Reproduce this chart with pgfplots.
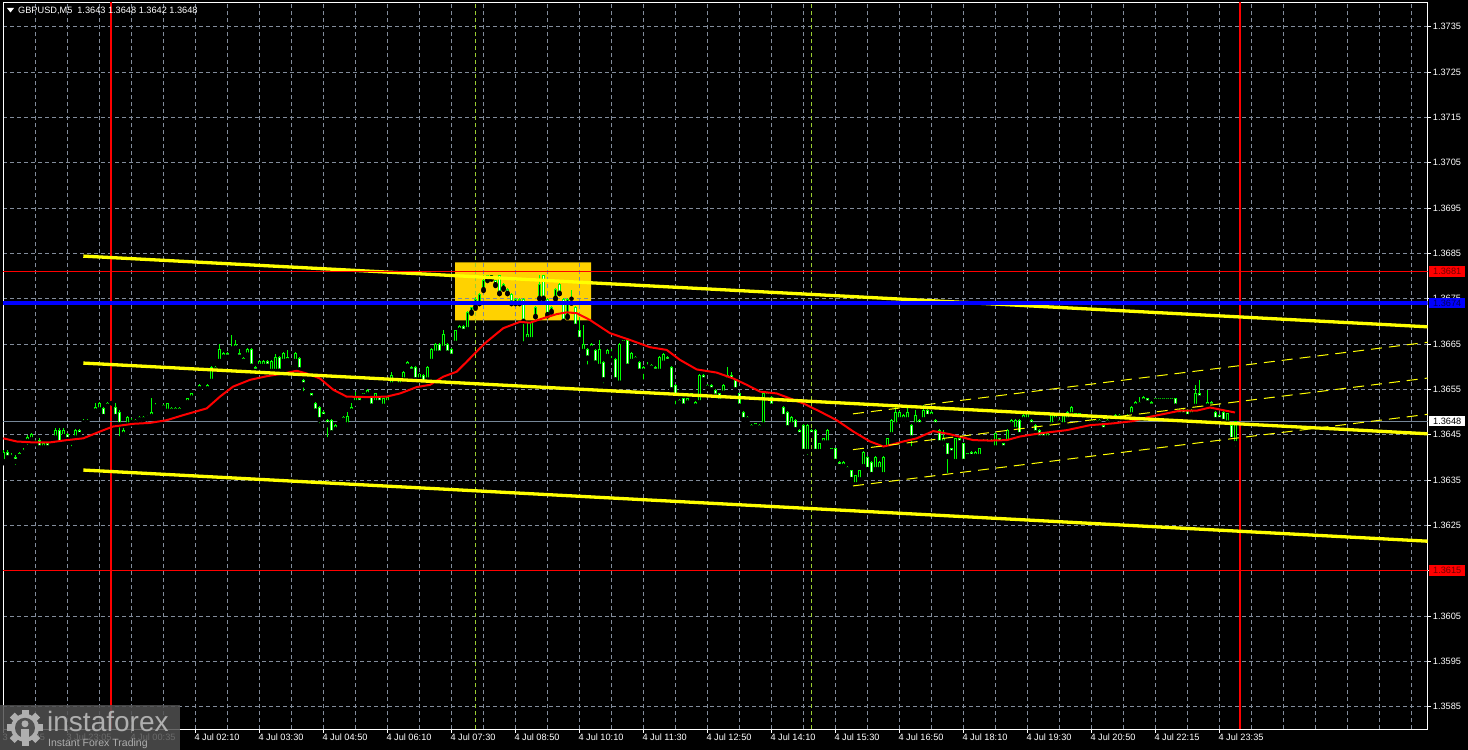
\documentclass[border=0pt]{standalone}
\usepackage{xcolor}
\usepackage{pgfplots}
\pgfplotsset{compat=1.18}
\usepackage{pgfplotstable}
\usepackage{fontspec}
\setmainfont{Liberation Sans}

\definecolor{candle}{RGB}{0,255,0}
\definecolor{gridgray}{RGB}{130,140,155}
\definecolor{chanyellow}{RGB}{255,255,0}
\definecolor{boxgold}{RGB}{255,210,0}
\definecolor{levelblue}{RGB}{0,0,255}
\definecolor{levelred}{RGB}{255,0,0}
\definecolor{redtext}{RGB}{110,0,0}
\definecolor{bluetext}{RGB}{0,0,90}
\definecolor{bidgray}{RGB}{119,136,153}
\definecolor{sepgreen}{RGB}{154,205,50}
\definecolor{wmbox}{RGB}{80,80,80}
\definecolor{wmtext}{RGB}{175,175,175}

% GBPUSD M5 candles: bar index, open, high, low, close
\pgfplotstableread{
i o h l c
0 1.36390 1.36416 1.36387 1.36412
1 1.36412 1.36416 1.36390 1.36398
2 1.36405 1.36409 1.36398 1.36401
3 1.36401 1.36405 1.36379 1.36390
4 1.36401 1.36412 1.36398 1.36409
5 1.36412 1.36420 1.36409 1.36416
6 1.36434 1.36449 1.36423 1.36445
7 1.36438 1.36453 1.36434 1.36451
8 1.36434 1.36438 1.36429 1.36432
9 1.36438 1.36442 1.36416 1.36420
10 1.36420 1.36434 1.36417 1.36432
11 1.36431 1.36434 1.36417 1.36420
12 1.36437 1.36440 1.36434 1.36438
13 1.36442 1.36464 1.36438 1.36460
14 1.36460 1.36464 1.36429 1.36431
15 1.36445 1.36464 1.36442 1.36460
16 1.36451 1.36453 1.36434 1.36438
17 1.36432 1.36434 1.36420 1.36432
18 1.36442 1.36462 1.36440 1.36460
19 1.36460 1.36462 1.36447 1.36449
20 1.36475 1.36484 1.36471 1.36481
21 1.36478 1.36484 1.36471 1.36481
22 1.36492 1.36495 1.36489 1.36493
23 1.36501 1.36520 1.36498 1.36512
24 1.36504 1.36523 1.36502 1.36520
25 1.36508 1.36512 1.36488 1.36489
26 1.36512 1.36523 1.36509 1.36520
27 1.36520 1.36523 1.36519 1.36520
28 1.36512 1.36520 1.36486 1.36489
29 1.36501 1.36504 1.36442 1.36471
30 1.36449 1.36464 1.36447 1.36460
31 1.36471 1.36491 1.36469 1.36489
32 1.36482 1.36486 1.36473 1.36476
33 1.36478 1.36484 1.36475 1.36482
34 1.36482 1.36491 1.36481 1.36489
35 1.36489 1.36491 1.36481 1.36482
36 1.36486 1.36493 1.36484 1.36492
37 1.36489 1.36530 1.36488 1.36501
38 1.36512 1.36519 1.36506 1.36512
39 1.36508 1.36512 1.36501 1.36508
40 1.36508 1.36517 1.36506 1.36515
41 1.36501 1.36520 1.36498 1.36519
42 1.36508 1.36510 1.36498 1.36501
43 1.36501 1.36510 1.36498 1.36508
44 1.36508 1.36510 1.36498 1.36501
45 1.36522 1.36524 1.36520 1.36523
46 1.36520 1.36531 1.36519 1.36530
47 1.36530 1.36542 1.36528 1.36541
48 1.36542 1.36546 1.36541 1.36545
49 1.36550 1.36561 1.36548 1.36559
50 1.36541 1.36542 1.36539 1.36541
51 1.36550 1.36561 1.36548 1.36559
52 1.36567 1.36601 1.36564 1.36600
53 1.36592 1.36601 1.36591 1.36600
54 1.36611 1.36651 1.36609 1.36640
55 1.36620 1.36633 1.36618 1.36631
56 1.36631 1.36633 1.36618 1.36620
57 1.36640 1.36670 1.36636 1.36640
58 1.36640 1.36660 1.36638 1.36651
59 1.36631 1.36640 1.36611 1.36620
60 1.36620 1.36622 1.36609 1.36611
61 1.36625 1.36642 1.36623 1.36640
62 1.36640 1.36642 1.36598 1.36600
63 1.36600 1.36601 1.36587 1.36589
64 1.36600 1.36614 1.36598 1.36612
65 1.36600 1.36614 1.36598 1.36612
66 1.36612 1.36614 1.36598 1.36600
67 1.36589 1.36614 1.36587 1.36612
68 1.36589 1.36629 1.36587 1.36622
69 1.36622 1.36623 1.36578 1.36589
70 1.36611 1.36633 1.36609 1.36631
71 1.36612 1.36636 1.36611 1.36622
72 1.36596 1.36601 1.36592 1.36596
73 1.36611 1.36633 1.36609 1.36631
74 1.36620 1.36622 1.36591 1.36592
75 1.36570 1.36572 1.36541 1.36559
76 1.36550 1.36552 1.36548 1.36550
77 1.36541 1.36542 1.36528 1.36530
78 1.36520 1.36523 1.36498 1.36501
79 1.36512 1.36513 1.36471 1.36482
80 1.36501 1.36502 1.36488 1.36489
81 1.36482 1.36484 1.36440 1.36471
82 1.36482 1.36484 1.36451 1.36453
83 1.36460 1.36473 1.36459 1.36471
84 1.36478 1.36481 1.36476 1.36478
85 1.36481 1.36491 1.36478 1.36489
86 1.36471 1.36501 1.36469 1.36491
87 1.36501 1.36520 1.36498 1.36512
88 1.36520 1.36545 1.36519 1.36534
89 1.36530 1.36531 1.36519 1.36520
90 1.36534 1.36542 1.36532 1.36541
91 1.36537 1.36550 1.36535 1.36548
92 1.36534 1.36535 1.36510 1.36512
93 1.36520 1.36542 1.36519 1.36541
94 1.36534 1.36535 1.36519 1.36520
95 1.36512 1.36531 1.36510 1.36530
96 1.36520 1.36535 1.36519 1.36534
97 1.36559 1.36589 1.36557 1.36581
98 1.36574 1.36575 1.36562 1.36563
99 1.36559 1.36572 1.36557 1.36570
100 1.36570 1.36590 1.36569 1.36589
101 1.36600 1.36612 1.36598 1.36611
102 1.36600 1.36601 1.36587 1.36589
103 1.36600 1.36601 1.36569 1.36570
104 1.36570 1.36587 1.36569 1.36585
105 1.36581 1.36583 1.36562 1.36563
106 1.36570 1.36601 1.36569 1.36600
107 1.36611 1.36642 1.36609 1.36640
108 1.36629 1.36653 1.36628 1.36651
109 1.36651 1.36653 1.36628 1.36629
110 1.36640 1.36681 1.36638 1.36673
111 1.36651 1.36653 1.36628 1.36629
112 1.36640 1.36642 1.36620 1.36622
113 1.36651 1.36682 1.36650 1.36681
114 1.36679 1.36691 1.36677 1.36689
115 1.36689 1.36691 1.36675 1.36677
116 1.36681 1.36722 1.36679 1.36721
117 1.36719 1.36732 1.36717 1.36731
118 1.36731 1.36754 1.36728 1.36750
119 1.36739 1.36763 1.36738 1.36761
120 1.36769 1.36802 1.36767 1.36791
121 1.36791 1.36803 1.36789 1.36802
122 1.36802 1.36803 1.36792 1.36795
123 1.36791 1.36792 1.36778 1.36780
124 1.36802 1.36803 1.36760 1.36761
125 1.36772 1.36785 1.36770 1.36783
126 1.36772 1.36774 1.36760 1.36761
127 1.36761 1.36763 1.36738 1.36739
128 1.36739 1.36752 1.36738 1.36750
129 1.36750 1.36752 1.36738 1.36739
130 1.36750 1.36752 1.36651 1.36699
131 1.36659 1.36699 1.36657 1.36673
132 1.36659 1.36700 1.36657 1.36699
133 1.36710 1.36734 1.36709 1.36732
134 1.36750 1.36802 1.36749 1.36783
135 1.36802 1.36803 1.36748 1.36750
136 1.36750 1.36752 1.36711 1.36714
137 1.36721 1.36734 1.36719 1.36732
138 1.36750 1.36774 1.36748 1.36772
139 1.36783 1.36785 1.36760 1.36761
140 1.36750 1.36752 1.36697 1.36699
141 1.36710 1.36752 1.36708 1.36750
142 1.36750 1.36769 1.36739 1.36750
143 1.36732 1.36734 1.36686 1.36688
144 1.36681 1.36710 1.36651 1.36659
145 1.36633 1.36692 1.36631 1.36651
146 1.36640 1.36642 1.36600 1.36618
147 1.36640 1.36653 1.36638 1.36651
148 1.36636 1.36638 1.36606 1.36607
149 1.36600 1.36659 1.36598 1.36640
150 1.36611 1.36612 1.36559 1.36570
151 1.36622 1.36638 1.36620 1.36636
152 1.36629 1.36640 1.36614 1.36629
153 1.36618 1.36620 1.36569 1.36570
154 1.36563 1.36653 1.36562 1.36651
155 1.36651 1.36660 1.36650 1.36659
156 1.36659 1.36660 1.36598 1.36600
157 1.36611 1.36632 1.36609 1.36631
158 1.36622 1.36623 1.36613 1.36614
159 1.36611 1.36612 1.36587 1.36589
160 1.36589 1.36601 1.36567 1.36600
161 1.36600 1.36611 1.36598 1.36600
162 1.36596 1.36605 1.36595 1.36603
163 1.36600 1.36601 1.36587 1.36589
164 1.36589 1.36623 1.36587 1.36622
165 1.36607 1.36631 1.36606 1.36629
166 1.36622 1.36623 1.36609 1.36611
167 1.36600 1.36601 1.36547 1.36548
168 1.36559 1.36561 1.36512 1.36530
169 1.36526 1.36528 1.36517 1.36519
170 1.36530 1.36531 1.36510 1.36512
171 1.36519 1.36531 1.36517 1.36530
172 1.36530 1.36542 1.36528 1.36541
173 1.36512 1.36524 1.36510 1.36523
174 1.36520 1.36583 1.36519 1.36581
175 1.36581 1.36583 1.36569 1.36570
176 1.36559 1.36561 1.36551 1.36552
177 1.36559 1.36561 1.36547 1.36548
178 1.36548 1.36550 1.36532 1.36534
179 1.36541 1.36542 1.36521 1.36523
180 1.36541 1.36561 1.36539 1.36559
181 1.36570 1.36600 1.36569 1.36581
182 1.36581 1.36589 1.36569 1.36570
183 1.36570 1.36572 1.36547 1.36548
184 1.36541 1.36542 1.36510 1.36512
185 1.36501 1.36502 1.36481 1.36482
186 1.36489 1.36491 1.36481 1.36482
187 1.36471 1.36473 1.36462 1.36464
188 1.36467 1.36476 1.36466 1.36475
189 1.36471 1.36473 1.36462 1.36464
190 1.36471 1.36542 1.36470 1.36541
191 1.36534 1.36542 1.36532 1.36541
192 1.36534 1.36535 1.36510 1.36512
193 1.36519 1.36531 1.36517 1.36530
194 1.36530 1.36534 1.36526 1.36530
195 1.36512 1.36513 1.36488 1.36489
196 1.36501 1.36502 1.36462 1.36464
197 1.36471 1.36491 1.36470 1.36489
198 1.36482 1.36484 1.36459 1.36460
199 1.36460 1.36462 1.36448 1.36449
200 1.36471 1.36473 1.36411 1.36412
201 1.36412 1.36473 1.36401 1.36471
202 1.36460 1.36462 1.36448 1.36449
203 1.36460 1.36462 1.36411 1.36412
204 1.36412 1.36432 1.36411 1.36431
205 1.36431 1.36443 1.36429 1.36442
206 1.36431 1.36462 1.36429 1.36460
207 1.36420 1.36421 1.36411 1.36412
208 1.36420 1.36421 1.36389 1.36390
209 1.36390 1.36392 1.36378 1.36379
210 1.36379 1.36392 1.36378 1.36390
211 1.36379 1.36381 1.36370 1.36372
212 1.36372 1.36373 1.36348 1.36350
213 1.36339 1.36362 1.36337 1.36361
214 1.36350 1.36373 1.36348 1.36372
215 1.36379 1.36414 1.36378 1.36412
216 1.36401 1.36403 1.36370 1.36372
217 1.36390 1.36392 1.36359 1.36361
218 1.36372 1.36403 1.36370 1.36401
219 1.36372 1.36392 1.36370 1.36390
220 1.36361 1.36403 1.36359 1.36401
221 1.36420 1.36443 1.36418 1.36442
222 1.36449 1.36484 1.36448 1.36482
223 1.36471 1.36512 1.36470 1.36501
224 1.36482 1.36502 1.36481 1.36501
225 1.36482 1.36495 1.36481 1.36493
226 1.36482 1.36512 1.36481 1.36501
227 1.36471 1.36473 1.36420 1.36442
228 1.36471 1.36504 1.36470 1.36493
229 1.36482 1.36484 1.36470 1.36471
230 1.36482 1.36515 1.36481 1.36504
231 1.36504 1.36506 1.36488 1.36489
232 1.36489 1.36502 1.36488 1.36501
233 1.36482 1.36484 1.36470 1.36471
234 1.36460 1.36462 1.36429 1.36431
235 1.36431 1.36460 1.36420 1.36442
236 1.36431 1.36432 1.36361 1.36401
237 1.36420 1.36421 1.36407 1.36409
238 1.36390 1.36443 1.36389 1.36442
239 1.36442 1.36443 1.36429 1.36431
240 1.36431 1.36432 1.36389 1.36390
241 1.36401 1.36410 1.36400 1.36409
242 1.36412 1.36414 1.36400 1.36401
243 1.36401 1.36414 1.36400 1.36412
244 1.36401 1.36421 1.36400 1.36420
245 1.36431 1.36440 1.36429 1.36438
246 1.36438 1.36440 1.36429 1.36431
247 1.36431 1.36440 1.36429 1.36438
248 1.36420 1.36454 1.36418 1.36453
249 1.36442 1.36443 1.36429 1.36431
250 1.36431 1.36432 1.36418 1.36420
251 1.36431 1.36462 1.36429 1.36460
252 1.36471 1.36484 1.36470 1.36482
253 1.36460 1.36484 1.36459 1.36482
254 1.36482 1.36484 1.36448 1.36449
255 1.36482 1.36495 1.36481 1.36493
256 1.36482 1.36503 1.36481 1.36502
257 1.36482 1.36484 1.36470 1.36471
258 1.36471 1.36473 1.36451 1.36453
259 1.36460 1.36462 1.36440 1.36442
260 1.36453 1.36454 1.36440 1.36442
261 1.36442 1.36454 1.36440 1.36453
262 1.36471 1.36495 1.36470 1.36493
263 1.36482 1.36495 1.36481 1.36493
264 1.36482 1.36484 1.36473 1.36475
265 1.36471 1.36495 1.36470 1.36493
266 1.36482 1.36502 1.36481 1.36501
267 1.36493 1.36513 1.36492 1.36512
268 1.36497 1.36498 1.36488 1.36489
269 1.36497 1.36498 1.36488 1.36489
270 1.36489 1.36491 1.36481 1.36482
271 1.36486 1.36487 1.36481 1.36482
272 1.36482 1.36484 1.36473 1.36475
273 1.36475 1.36484 1.36473 1.36482
274 1.36482 1.36484 1.36473 1.36475
275 1.36471 1.36473 1.36459 1.36460
276 1.36475 1.36484 1.36473 1.36482
277 1.36482 1.36491 1.36481 1.36489
278 1.36482 1.36495 1.36481 1.36493
279 1.36486 1.36495 1.36484 1.36493
280 1.36489 1.36491 1.36481 1.36482
281 1.36489 1.36495 1.36488 1.36493
282 1.36493 1.36513 1.36492 1.36512
283 1.36512 1.36524 1.36510 1.36523
284 1.36515 1.36534 1.36514 1.36523
285 1.36523 1.36535 1.36521 1.36534
286 1.36530 1.36531 1.36517 1.36519
287 1.36523 1.36524 1.36510 1.36512
288 1.36523 1.36531 1.36521 1.36530
289 1.36530 1.36531 1.36521 1.36523
290 1.36523 1.36531 1.36521 1.36530
291 1.36530 1.36531 1.36521 1.36523
292 1.36523 1.36531 1.36521 1.36530
293 1.36530 1.36531 1.36510 1.36512
294 1.36504 1.36506 1.36492 1.36493
295 1.36504 1.36506 1.36492 1.36493
296 1.36504 1.36506 1.36488 1.36489
297 1.36493 1.36506 1.36492 1.36504
298 1.36512 1.36559 1.36510 1.36541
299 1.36541 1.36570 1.36528 1.36530
300 1.36534 1.36535 1.36528 1.36530
301 1.36512 1.36548 1.36510 1.36523
302 1.36523 1.36524 1.36510 1.36512
303 1.36501 1.36502 1.36481 1.36482
304 1.36493 1.36495 1.36481 1.36482
305 1.36501 1.36502 1.36477 1.36478
306 1.36475 1.36498 1.36473 1.36497
307 1.36471 1.36473 1.36437 1.36438
308 1.36430 1.36480 1.36420 1.36480
}\candles

% moving average (red)
\pgfplotstableread{
x y
3.3 1.36442
16.7 1.36435
33 1.36433
50 1.36433
66.7 1.36438
83.3 1.36442
100 1.36457
113 1.36468
133.3 1.36474
150 1.36476
166.7 1.36482
183 1.36493
206.7 1.36508
220 1.36534
233 1.36556
250 1.36571
266.7 1.36579
283.3 1.36585
296.7 1.36591
306.7 1.36585
320 1.36574
333.3 1.36549
346.7 1.36534
366.7 1.36533
386.7 1.36534
400 1.36541
416.7 1.36555
430 1.36560
443.3 1.36578
456.7 1.36589
466.7 1.36611
480 1.36641
486.7 1.36655
503.3 1.36685
520 1.36699
530 1.36697
543.3 1.36707
556.7 1.36716
566.7 1.36720
576.7 1.36718
590 1.36703
610 1.36674
630 1.36659
650 1.36643
666.7 1.36637
680 1.36615
696.7 1.36594
716.7 1.36587
733.3 1.36574
746.7 1.36560
760 1.36545
776.7 1.36541
790 1.36530
803.3 1.36519
820 1.36501
836.7 1.36482
853.3 1.36457
870 1.36435
883.3 1.36424
890 1.36427
903.3 1.36435
916.7 1.36442
933.3 1.36458
950 1.36451
973.3 1.36438
990 1.36437
1006.7 1.36438
1020 1.36446
1040 1.36453
1066.7 1.36460
1090 1.36471
1113.3 1.36475
1133.3 1.36480
1146.7 1.36488
1166.7 1.36497
1180 1.36503
1196.7 1.36503
1210 1.36510
1223.3 1.36504
1235 1.36499
}\ma

\pgfplotsset{
  candlebar/.style={only marks, mark=none, forget plot,
    error bars/y dir=plus, error bars/y explicit,
    error bars/error mark=none,
    error bars/error bar style={#1}},
}

\pagecolor{black}

\begin{document}
\begin{tikzpicture}[x=1pt,y=1pt]
\begin{axis}[
  at={(0pt,0pt)}, anchor=south west,
  scale only axis, width=1424.7pt, height=727pt,
  xmin=3, xmax=1427.7, ymin=1.3580, ymax=1.37404,
  set layers=standard,
  clip mode=individual,
  axis line style={white, line width=0.9pt},
  tick style={white, line width=0.8pt},
  tick align=outside,
  major tick length=3.5pt,
  minor tick length=0pt,
  xtick pos=bottom, ytick pos=right,
  yticklabel pos=right,
  xtick={3.5,67.5,131.5,195.5,259.5,323.5,387.5,451.5,515.5,579.5,643.5,707.5,771.5,835.5,899.5,963.5,1027.5,1091.5,1155.5,1219.5},
  xticklabels={3 Jul 2025,3 Jul 23:05,4 Jul 00:35,4 Jul 02:10,4 Jul 03:30,4 Jul 04:50,4 Jul 06:10,4 Jul 07:30,4 Jul 08:50,4 Jul 10:10,4 Jul 11:30,4 Jul 12:50,4 Jul 14:10,4 Jul 15:30,4 Jul 16:50,4 Jul 18:10,4 Jul 19:30,4 Jul 20:50,4 Jul 22:15,4 Jul 23:35},
  minor xtick={35.5,99.5,163.5,227.5,291.5,355.5,419.5,483.5,547.5,611.5,675.5,739.5,803.5,867.5,931.5,995.5,1059.5,1123.5,1187.5,1251.5,1283.5,1315.5,1347.5,1379.5,1411.5},
  ytick={1.3585,1.3595,1.3605,1.3615,1.3625,1.3635,1.3645,1.3655,1.3665,1.3675,1.3685,1.3695,1.3705,1.3715,1.3725,1.3735},
  yticklabels={1.3585,1.3595,1.3605,1.3615,1.3625,1.3635,1.3645,1.3655,1.3665,1.3675,1.3685,1.3695,1.3705,1.3715,1.3725,1.3735},
  xmajorgrids, xminorgrids, ymajorgrids,
  grid style={gridgray, line width=0.8pt, dash pattern=on 4pt off 3pt},
  ticklabel style={font=\fontsize{9.2}{10}\selectfont, text=white, inner sep=0pt},
  xticklabel style={anchor=base west, xshift=-1.2pt, yshift=-8pt},
  yticklabel style={anchor=west, xshift=1.5pt},
]

% highlighted zone
\addplot[fill=boxgold, draw=none, on layer=axis background] coordinates {(455,1.36702) (591,1.36702) (591,1.36830) (455,1.36830) (455,1.36702)};

% session separators
\addplot[levelred, line width=2pt] coordinates {(111,1.3580) (111,1.37404)};
\addplot[levelred, line width=2pt] coordinates {(1239.5,1.3580) (1239.5,1.37404)};
\addplot[sepgreen, line width=1pt, dash pattern=on 4pt off 3pt] coordinates {(475.5,1.3580) (475.5,1.37404)};
\addplot[sepgreen, line width=1pt, dash pattern=on 4pt off 3pt] coordinates {(811.5,1.3580) (811.5,1.37404)};

% bid line
\addplot[bidgray, line width=1pt] coordinates {(3,1.3648) (1427.7,1.3648)};

% candles: wicks, then bodies
\addplot[candlebar={candle, line width=1pt}] table[x expr=3.5+4*\thisrow{i}, y=l, y error plus expr=\thisrow{h}-\thisrow{l}] {\candles};
\addplot[restrict expr to domain={\thisrow{c}-\thisrow{o}}{0:1}, candlebar={candle, line width=3pt}] table[x expr=3.5+4*\thisrow{i}, y=o, y error plus expr={max(\thisrow{c}-\thisrow{o},0.000022)}] {\candles};
\addplot[restrict expr to domain={\thisrow{c}-\thisrow{o}}{0.00005:1}, candlebar={black, line width=1pt}] table[x expr=3.5+4*\thisrow{i}, y expr=\thisrow{o}+0.000022, y error plus expr=\thisrow{c}-\thisrow{o}-0.000044] {\candles};
\addplot[restrict expr to domain={\thisrow{c}-\thisrow{o}}{-1:-0.000005}, candlebar={candle, line width=3pt}] table[x expr=3.5+4*\thisrow{i}, y=c, y error plus expr=\thisrow{o}-\thisrow{c}] {\candles};
\addplot[restrict expr to domain={\thisrow{c}-\thisrow{o}}{-1:-0.00005}, candlebar={white, line width=1pt}] table[x expr=3.5+4*\thisrow{i}, y expr=\thisrow{c}+0.000022, y error plus expr=\thisrow{o}-\thisrow{c}-0.000044] {\candles};

% moving average
\addplot[levelred, line width=2pt] table[x=x, y=y] {\ma};

% descending channel
\addplot[chanyellow, line width=3.3pt] coordinates {(83.3,1.36844) (1427.7,1.36688)};
\addplot[chanyellow, line width=3.3pt] coordinates {(83.3,1.36608) (1427.7,1.36452)};
\addplot[chanyellow, line width=3.3pt] coordinates {(83.3,1.36372) (1427.7,1.36215)};

% rising channel
\addplot[chanyellow, line width=1pt, dash pattern=on 11pt off 7pt] coordinates {(853,1.36337) (1427.7,1.36495)};
\addplot[chanyellow, line width=1pt, dash pattern=on 11pt off 7pt] coordinates {(853,1.36417) (1427.7,1.36575)};
\addplot[chanyellow, line width=1pt, dash pattern=on 11pt off 7pt] coordinates {(853,1.36496) (1427.7,1.36654)};

% levels
\addplot[levelred, line width=1pt] coordinates {(3,1.3681) (1427.7,1.3681)};
\addplot[levelred, line width=1pt] coordinates {(3,1.3615) (1427.7,1.3615)};
\addplot[levelblue, line width=3.5pt] coordinates {(3,1.3674) (1427.7,1.3674)};

\coordinate (labA) at (axis cs:1429,1.3681);
\coordinate (labB) at (axis cs:1429,1.3674);
\coordinate (labC) at (axis cs:1429,1.3648);
\coordinate (labD) at (axis cs:1429,1.3615);
\end{axis}

% price tags on the scale
\tikzset{pricetag/.style={anchor=west, minimum width=36pt, minimum height=10.5pt, inner sep=0pt, font=\fontsize{9.2}{10}\selectfont}}
\node[pricetag, fill=levelred, text=redtext] at (labA) {1.3681};
\node[pricetag, fill=levelblue, text=bluetext] at (labB) {1.3674};
\node[pricetag, fill=white, text=black] at (labC) {1.3648};
\node[pricetag, fill=levelred, text=redtext] at (labD) {1.3615};

% symbol header
\fill[white] (4,721.3) -- (11,721.3) -- (7.5,716.8) -- cycle;
\node[anchor=base west, inner sep=0pt, text=white, font=\fontsize{9.2}{10}\selectfont] at (15,715.3) {GBPUSD,M5\hspace{5pt}1.3643 1.3648 1.3642 1.3648};

% broker watermark
\fill[wmbox, opacity=0.85] (-3,-20.7) rectangle (177,24.3);
\begin{scope}[shift={(22,1.5)}]
  \foreach \a in {0,45,...,315} \fill[wmtext, rotate=\a] (-3.5,12) rectangle (3.5,18);
  \fill[wmtext] (0,0) circle (14);
  \fill[wmbox] (0,0) circle (10);
  \fill[wmtext] (0,4) circle (3.5);
  \fill[wmtext] (-4,-10) rectangle (4,-1);
\end{scope}
\node[anchor=base west, inner sep=0pt, text=wmtext, font=\fontsize{28}{28}\selectfont] at (44,-2.7) {instaforex};
\node[anchor=base west, inner sep=0pt, text=wmtext, font=\fontsize{10.5}{11}\selectfont] at (45,-17.7) {Instant Forex Trading};

\pgfresetboundingbox
\path[use as bounding box] (-3,-20.7) rectangle (1465,729.3);
\end{tikzpicture}
\end{document}
